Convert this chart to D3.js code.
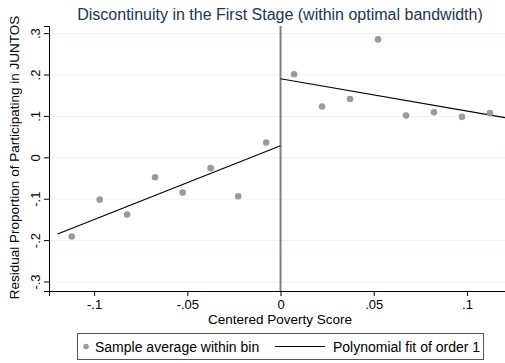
<!DOCTYPE html>
<html lang="en">
<head>
    <meta charset="UTF-8">
    <title>Discontinuity in the First Stage</title>
    <script src="https://d3js.org/d3.v7.min.js"></script>
    <style>
        body { margin: 0; background: #fff; font-family: "Liberation Sans", Arial, sans-serif; }
        .grid line { stroke: #eaf2f3; stroke-width: 1px; }
        .axis path, .axis line { stroke: #000; }
        .axis text { font-size: 13px; fill: #000; }
    </style>
</head>
<body>
    <svg width="505" height="363"></svg>
    <script>
        // bin averages
        const binX = [-0.112, -0.097, -0.0823, -0.0673, -0.0525, -0.0375, -0.0227, -0.0077,
                      0.0073, 0.0223, 0.0373, 0.0523, 0.0673, 0.0823, 0.0973, 0.1123];
        const binY = [-0.190, -0.101, -0.137, -0.047, -0.084, -0.025, -0.093, 0.037,
                      0.202, 0.124, 0.142, 0.286, 0.102, 0.110, 0.099, 0.108];
        // linear fits, each side of the cutoff
        const fitLeft = [[-0.1196, -0.184], [0, 0.029]];
        const fitRight = [[0, 0.191], [0.1204, 0.097]];
        const xTicks = [-0.1, -0.05, 0, 0.05, 0.1];
        const xTickLabels = ["-.1", "-.05", "0", ".05", ".1"];
        const yTicks = [-0.3, -0.2, -0.1, 0, 0.1, 0.2, 0.3];
        const yTickLabels = ["-.3", "-.2", "-.1", "0", ".1", ".2", ".3"];

        const svg = d3.select("svg");
        const pLeft = 49, pRight = 505, pTop = 26, pBottom = 291;

        const x = d3.scaleLinear().domain([-0.1242, 0.1204]).range([pLeft, pRight]);
        const y = d3.scaleLinear().domain([-0.3217, 0.3184]).range([pBottom, pTop]);

        // gridlines
        svg.append("g").attr("class", "grid")
            .selectAll("line").data(yTicks).enter().append("line")
            .attr("x1", pLeft).attr("x2", pRight)
            .attr("y1", d => y(d)).attr("y2", d => y(d));

        // cutoff
        svg.append("line")
            .attr("x1", x(0)).attr("x2", x(0))
            .attr("y1", pTop).attr("y2", pBottom)
            .attr("stroke", "#7f7f7f").attr("stroke-width", 2);

        const line = d3.line().x(d => x(d[0])).y(d => y(d[1]));
        [fitLeft, fitRight].forEach(f => {
            svg.append("path").datum(f)
                .attr("d", line)
                .attr("fill", "none").attr("stroke", "#000").attr("stroke-width", 1.2);
        });

        svg.append("g").selectAll("circle")
            .data(binX.map((v, i) => [v, binY[i]]))
            .enter().append("circle")
            .attr("cx", d => x(d[0])).attr("cy", d => y(d[1]))
            .attr("r", 3.3).attr("fill", "#9a9a9a");

        // axes
        svg.append("g").attr("class", "axis")
            .attr("transform", `translate(0,${pBottom})`)
            .call(d3.axisBottom(x).tickValues(xTicks).tickFormat((d, i) => xTickLabels[i])
                .tickSizeOuter(0).tickSize(5).tickPadding(4));

        const yAxis = svg.append("g").attr("class", "axis")
            .attr("transform", `translate(${pLeft},0)`)
            .call(d3.axisLeft(y).tickValues(yTicks).tickFormat((d, i) => yTickLabels[i])
                .tickSizeOuter(0).tickSize(5));
        yAxis.selectAll(".tick").attr("transform", null);
        yAxis.selectAll(".tick line").attr("y1", d => y(d)).attr("y2", d => y(d));
        yAxis.selectAll(".tick text")
            .attr("x", null).attr("y", null).attr("dy", null)
            .attr("text-anchor", "middle")
            .attr("transform", d => `translate(-9,${y(d)}) rotate(-90)`);

        // titles
        svg.append("text")
            .attr("x", 280).attr("y", 20)
            .attr("text-anchor", "middle")
            .attr("font-size", 16).attr("fill", "#1c3553")
            .text("Discontinuity in the First Stage (within optimal bandwidth)");

        svg.append("text")
            .attr("x", 280).attr("y", 324)
            .attr("text-anchor", "middle")
            .attr("font-size", 13.5)
            .text("Centered Poverty Score");

        svg.append("text")
            .attr("transform", `translate(19,157.5) rotate(-90)`)
            .attr("text-anchor", "middle")
            .attr("font-size", 13.5)
            .text("Residual Proportion of Participating in JUNTOS");

        // legend
        const lg = svg.append("g");
        lg.append("rect")
            .attr("x", 77.5).attr("y", 333.5).attr("width", 406).attr("height", 26)
            .attr("fill", "#fff").attr("stroke", "#555");
        lg.append("circle").attr("cx", 86).attr("cy", 346.5).attr("r", 2.8).attr("fill", "#9a9a9a");
        lg.append("text").attr("x", 95).attr("y", 351.5).attr("font-size", 14)
            .text("Sample average within bin");
        lg.append("line").attr("x1", 275).attr("x2", 325)
            .attr("y1", 346.5).attr("y2", 346.5).attr("stroke", "#000");
        lg.append("text").attr("x", 333).attr("y", 351.5).attr("font-size", 14)
            .text("Polynomial fit of order 1");
    </script>
</body>
</html>
